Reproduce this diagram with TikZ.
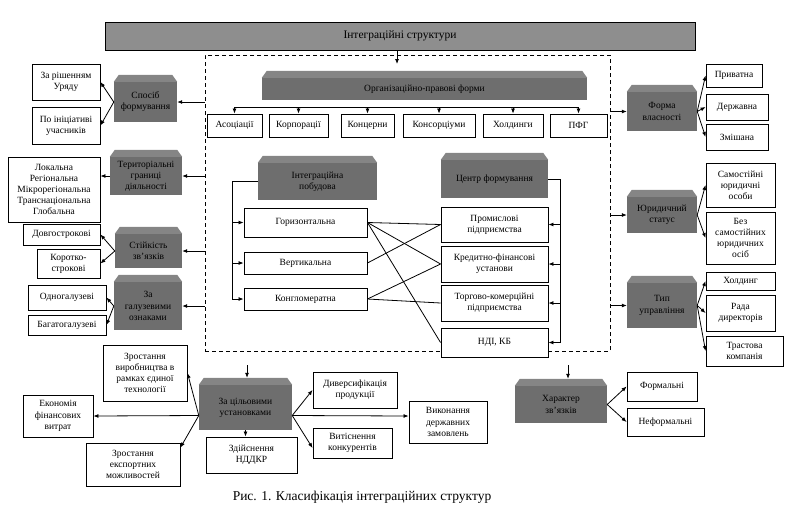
\documentclass[tikz,border=0pt]{standalone}
\usepackage{fontspec}
\setmainfont{Liberation Serif}
\usetikzlibrary{arrows.meta}

\definecolor{cubefront}{HTML}{6E6E6E}
\definecolor{cubetop}{HTML}{858585}
\definecolor{barfill}{HTML}{8E8E8E}

\begin{document}
\begin{tikzpicture}[x=1pt, y=-1pt, font=\fontsize{9.5}{11.2}\selectfont,
    box/.style={rectangle, draw, line width=0.9pt, fill=white, align=center, inner sep=1pt},
    cube/.style={rectangle, fill=cubefront, align=center, inner sep=1pt},
    sz/.style 2 args={minimum width=#1, minimum height=#2},
    arr/.style={-{Latex[length=5pt,width=4pt]}, line width=0.8pt}]
    \useasboundingbox (0,0) rectangle (799,523);

    \node[draw, dashed, line width=0.9pt, dash pattern=on 4pt off 3pt, sz={405}{296}] (frame) at (407.5,203) {};
    \node[rectangle, draw, fill=barfill, line width=0.9pt, sz={590}{28}] (integr) at (400,36) {\fontsize{11.5}{13}\selectfont Інтеграційні структури};

    \node[cube, sz={325}{22}] (orgforms) at (424.5,89) {Організаційно-правові форми};
    \node[box, sz={55}{23}] (asoc) at (234.5,125.5) {Асоціації};
    \node[box, sz={59}{23}] (korp) at (298.5,125.5) {Корпорації};
    \node[box, sz={53}{23}] (konts) at (367.5,125.5) {Концерни};
    \node[box, sz={72}{23}] (konsor) at (439,125.5) {Консорціуми};
    \node[box, sz={60}{23}] (khold) at (513,125.5) {Холдинги};
    \node[box, sz={57}{23}] (pfg) at (578.5,125.5) {ПФГ};

    \node[cube, sz={119}{37}] (pobud) at (317.5,181.5) {Інтеграційна\\побудова};
    \node[cube, sz={107}{38}] (tsentr) at (494.5,179) {Центр формування};
    \node[box, sz={123}{29}] (hor) at (305.5,222.5) {Горизонтальна};
    \node[box, sz={123}{22}] (vert) at (305.5,263) {Вертикальна};
    \node[box, sz={123}{22}] (kongl) at (305.5,299) {Конгломератна};
    \node[box, sz={107}{35}] (prom) at (494.5,224.5) {Промислові\\підприємства};
    \node[box, sz={107}{36}] (kred) at (494.5,264) {Кредитно-фінансові\\установи};
    \node[box, sz={107}{36}] (torg) at (494.5,303) {Торгово-комерційні\\підприємства};
    \node[box, sz={107}{29}] (ndi) at (494.5,342.5) {НДІ, КБ};

    \node[cube, sz={63}{40}] (sposib) at (145.5,102) {Спосіб\\формування};
    \node[box, sz={68}{36}] (urad) at (66,82) {За рішенням\\Уряду};
    \node[box, sz={68}{37}] (inits) at (66,125.5) {По ініціативі\\учасників};
    \node[cube, sz={72}{38}] (granytsi) at (146,176) {Територіальні\\границі\\діяльності};
    \node[box, sz={92}{65}] (terr) at (54,189.5) {Локальна\\Регіональна\\Мікрорегіональна\\Транснаціональна\\Глобальна};
    \node[cube, sz={67}{34}] (stiyk) at (148.5,251) {Стійкість\\зв'язків};
    \node[box, sz={77}{21}] (dovgo) at (61.5,234.5) {Довгострокові};
    \node[box, sz={63}{29}] (korotko) at (68.5,263.5) {Коротко-\\строкові};
    \node[cube, sz={68}{48}] (galuz) at (148,306) {За\\галузевими\\ознаками};
    \node[box, sz={78}{25}] (odno) at (67,297.5) {Одногалузеві};
    \node[box, sz={78}{20}] (bagato) at (67,325) {Багатогалузеві};

    \node[cube, sz={70}{39}] (vlasn) at (662,111.5) {Форма\\власності};
    \node[box, sz={56}{23}] (pryv) at (734,75.5) {Приватна};
    \node[box, sz={62}{26}] (derzh) at (737,107) {Державна};
    \node[box, sz={62}{26}] (zmish) at (737,137) {Змішана};
    \node[cube, sz={70}{36}] (yuryd) at (662,215) {Юридичний\\статус};
    \node[box, sz={69}{44}] (samost) at (740.5,185) {Самостійні\\юридичні\\особи};
    \node[box, sz={69}{52}] (bez) at (740.5,238) {Без\\самостійних\\юридичних\\осіб};
    \node[cube, sz={70}{45}] (typ) at (662,305.5) {Тип\\управління};
    \node[box, sz={69}{18}] (khol2) at (740.5,281) {Холдинг};
    \node[box, sz={69}{36}] (rada) at (740.5,313) {Рада\\директорів};
    \node[box, sz={77}{30}] (trast) at (744.5,351) {Трастова\\компанія};

    \node[cube, sz={93}{45}] (tsil) at (245.5,407.5) {За цільовими\\установками};
    \node[box, sz={84}{56}] (zrost) at (145,373) {Зростання\\виробництва в\\рамках єдиної\\технології};
    \node[box, sz={70}{42}] (ekon) at (58,416) {Економія\\фінансових\\витрат};
    \node[box, sz={94}{43}] (eksp) at (133,464.5) {Зростання\\експортних\\можливостей};
    \node[box, sz={91}{36}] (ndkr) at (251.5,455) {Здійснення\\НДДКР};
    \node[box, sz={84}{36}] (dyver) at (355,390) {Диверсифікація\\продукції};
    \node[box, sz={78}{42}] (vykon) at (448,422) {Виконання\\державних\\замовлень};
    \node[box, sz={79}{30}] (vytisn) at (352.5,443) {Витіснення\\конкурентів};

    \node[cube, sz={92}{37}] (kharakter) at (561,404.5) {Характер\\зв'язків};
    \node[box, sz={70}{29}] (form) at (662,386.5) {Формальні};
    \node[box, sz={77}{28}] (neform) at (665.5,422) {Неформальні};

    \node at (362,497) {\fontsize{13.5}{15}\selectfont Рис. 1. Класифікація інтеграційних структур};

    \foreach \n in {orgforms,pobud,tsentr,sposib,granytsi,stiyk,galuz,vlasn,yuryd,typ,tsil,kharakter}
        \fill[cubetop] (\n.north west) -- ++(5pt,7pt) -- ([shift={(-5pt,7pt)}]\n.north east) -- (\n.north east) -- cycle;

    \coordinate (orgin) at (397,64);
    \coordinate (bus) at (0,107);
    \coordinate (lb) at (232,0);
    \coordinate (rb) at (560,0);
    \coordinate (tsilin) at (247,365);
    \coordinate (kharin) at (568,365);

    \draw[arr] (integr.south -| orgin) -- (orgin);
    \draw[line width=0.8pt] (asoc.north |- bus) -- (pfg.north |- bus);
    \foreach \n in {asoc,korp,konts,konsor,khold,pfg}
        \draw[arr] (\n.north |- bus) -- (\n.north);

    \draw[line width=0.8pt] (pobud.west) -- (lb |- pobud.west) -- (lb |- kongl.west);
    \foreach \n in {hor,vert,kongl}
        \draw[arr] (lb |- \n.west) -- (\n.west);
    \draw[line width=0.8pt] (tsentr.east) -- (rb |- tsentr.east) -- (rb |- ndi.east);
    \foreach \n in {prom,kred,torg,ndi}
        \draw[arr] (rb |- \n.east) -- (\n.east);

    \draw[line width=0.8pt] (hor.east) -- (prom.west);
    \draw[line width=0.8pt] (hor.east) -- (kred.west);
    \draw[line width=0.8pt] (hor.east) -- (ndi.west);
    \draw[line width=0.8pt] (vert.east) -- (prom.west);
    \draw[line width=0.8pt] (kongl.east) -- (kred.west);
    \draw[line width=0.8pt] (kongl.east) -- (torg.west);

    \foreach \n in {sposib,granytsi,stiyk,galuz}
        \draw[arr] (frame.west |- \n.east) -- (\n.east);
    \foreach \n in {vlasn,yuryd,typ}
        \draw[arr] (frame.east |- \n.west) -- (\n.west);

    \draw[arr] (sposib.west) -- (urad.east);
    \draw[arr] (sposib.west) -- (inits.east);
    \draw[arr] (granytsi.west) -- (terr.east |- granytsi.west);
    \draw[arr] (stiyk.west) -- (dovgo.east);
    \draw[arr] (stiyk.west) -- (korotko.east);
    \draw[arr] (galuz.west) -- (odno.east);
    \draw[arr] (galuz.west) -- (bagato.east);

    \draw[arr] (vlasn.east) -- (pryv.west);
    \draw[arr] (vlasn.east) -- (derzh.west);
    \draw[arr] (vlasn.east) -- (zmish.west);
    \draw[arr] (yuryd.east) -- (samost.west);
    \draw[arr] (yuryd.east) -- (bez.west);
    \draw[arr] (typ.east) -- (khol2.west);
    \draw[arr] (typ.east) -- (rada.west);
    \draw[arr] (typ.east) -- (trast.west);

    \draw[arr, shorten >=7pt] (tsilin) -- (tsilin |- tsil.north);
    \draw[arr] ([yshift=-8pt]tsil.west) -- (ekon.east |- 0,416);
    \draw[arr] ([yshift=-8pt]tsil.west) -- (zrost.east);
    \draw[arr] ([yshift=-8pt]tsil.west) -- ([yshift=-5pt]eksp.north east);
    \draw[arr] (tsil.south) -- (tsil.south |- ndkr.north);
    \draw[arr] ([yshift=-8pt]tsil.east) -- (dyver.west);
    \draw[arr] ([yshift=-8pt]tsil.east) -- ([yshift=6pt]vykon.west);
    \draw[arr] ([yshift=-8pt]tsil.east) -- ([yshift=-5pt]vytisn.west);

    \draw[arr, shorten >=7pt] (kharin) -- (kharin |- kharakter.north);
    \draw[arr] (kharakter.east) -- (form.west);
    \draw[arr] (kharakter.east) -- (neform.west);
\end{tikzpicture}
\end{document}
